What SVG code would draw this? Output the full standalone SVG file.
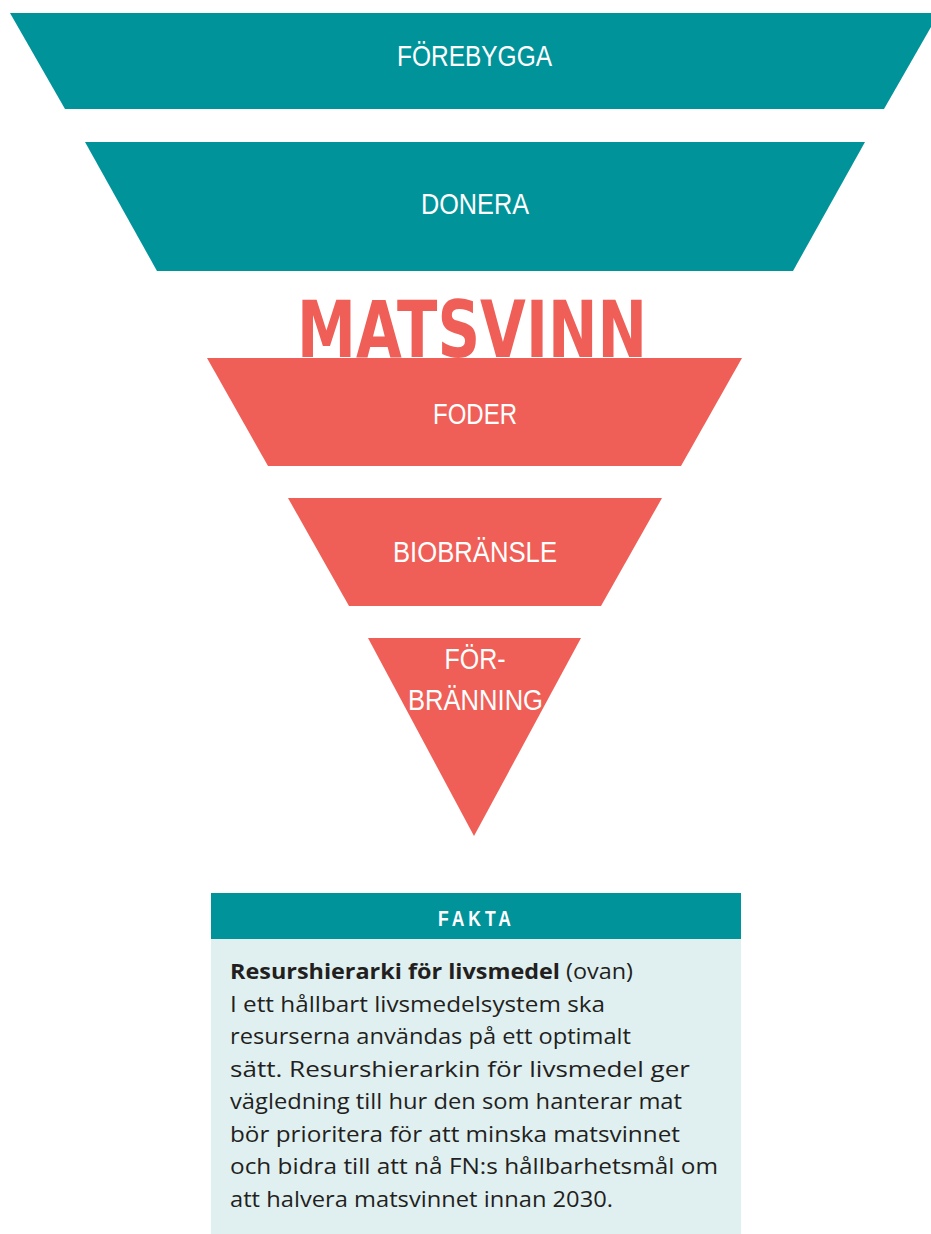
<svg xmlns="http://www.w3.org/2000/svg" width="931" height="1234" viewBox="0 0 931 1234">
<style>
.teal{fill:#00939A}
.coral{fill:#F05F57}
.lbl{font-family:"Liberation Sans Narrow","Liberation Sans",sans-serif;fill:#fff;font-size:29px;text-anchor:middle}
.body{font-family:"Open Sans","Liberation Sans",sans-serif;font-size:21px;fill:#231F20}
</style>
<rect width="931" height="1234" fill="#fff"/>
<g id="forebygga">
<polygon class="teal" points="10,13 939,13 884,109 65,109"/>
<text class="lbl" x="474.5" y="66" textLength="155" lengthAdjust="spacingAndGlyphs">FÖREBYGGA</text>
</g>
<g id="donera">
<polygon class="teal" points="85,142 865,142 793,271 157,271"/>
<text class="lbl" x="475" y="214" textLength="108" lengthAdjust="spacingAndGlyphs">DONERA</text>
</g>
<g id="matsvinn">
<text x="472" y="357" font-family="'DejaVu Sans',sans-serif" font-weight="bold" font-size="78" fill="#F05F57" text-anchor="middle" textLength="350" lengthAdjust="spacingAndGlyphs">MATSVINN</text>
</g>
<g id="foder">
<polygon class="coral" points="207,358 742,358 681,466 268,466"/>
<text class="lbl" x="475" y="424" textLength="84" lengthAdjust="spacingAndGlyphs">FODER</text>
</g>
<g id="biobransle">
<polygon class="coral" points="288,498 662,498 601,606 349,606"/>
<text class="lbl" x="475" y="562" textLength="164" lengthAdjust="spacingAndGlyphs">BIOBRÄNSLE</text>
</g>
<g id="forbranning">
<polygon class="coral" points="368,638 581,638 474,836"/>
<text class="lbl" x="475" y="669" textLength="61" lengthAdjust="spacingAndGlyphs">FÖR-</text>
<text class="lbl" x="475.5" y="710" textLength="135" lengthAdjust="spacingAndGlyphs">BRÄNNING</text>
</g>
<g id="fakta">
<rect x="211" y="893" width="530" height="46" class="teal"/>
<rect x="211" y="939" width="530" height="295" fill="#E0F0F1"/>
<text x="438" y="926" font-family="'Liberation Sans',sans-serif" font-weight="bold" font-size="22" fill="#fff" letter-spacing="5" textLength="77" lengthAdjust="spacingAndGlyphs">FAKTA</text>
<text class="body" x="230" y="979" textLength="403" lengthAdjust="spacingAndGlyphs"><tspan font-weight="bold">Resurshierarki för livsmedel</tspan> (ovan)</text>
<text class="body" x="230" y="1011.5" textLength="375" lengthAdjust="spacingAndGlyphs">I ett hållbart livsmedelsystem ska</text>
<text class="body" x="230" y="1044" textLength="401" lengthAdjust="spacingAndGlyphs">resurserna användas på ett optimalt</text>
<text class="body" x="230" y="1076.5" textLength="460" lengthAdjust="spacingAndGlyphs">sätt. Resurshierarkin för livsmedel ger</text>
<text class="body" x="230" y="1109" textLength="452" lengthAdjust="spacingAndGlyphs">vägledning till hur den som hanterar mat</text>
<text class="body" x="230" y="1141.5" textLength="450" lengthAdjust="spacingAndGlyphs">bör prioritera för att minska matsvinnet</text>
<text class="body" x="230" y="1174" textLength="488" lengthAdjust="spacingAndGlyphs">och bidra till att nå FN:s hållbarhetsmål om</text>
<text class="body" x="230" y="1206.5" textLength="383" lengthAdjust="spacingAndGlyphs">att halvera matsvinnet innan 2030.</text>
</g>
</svg>
